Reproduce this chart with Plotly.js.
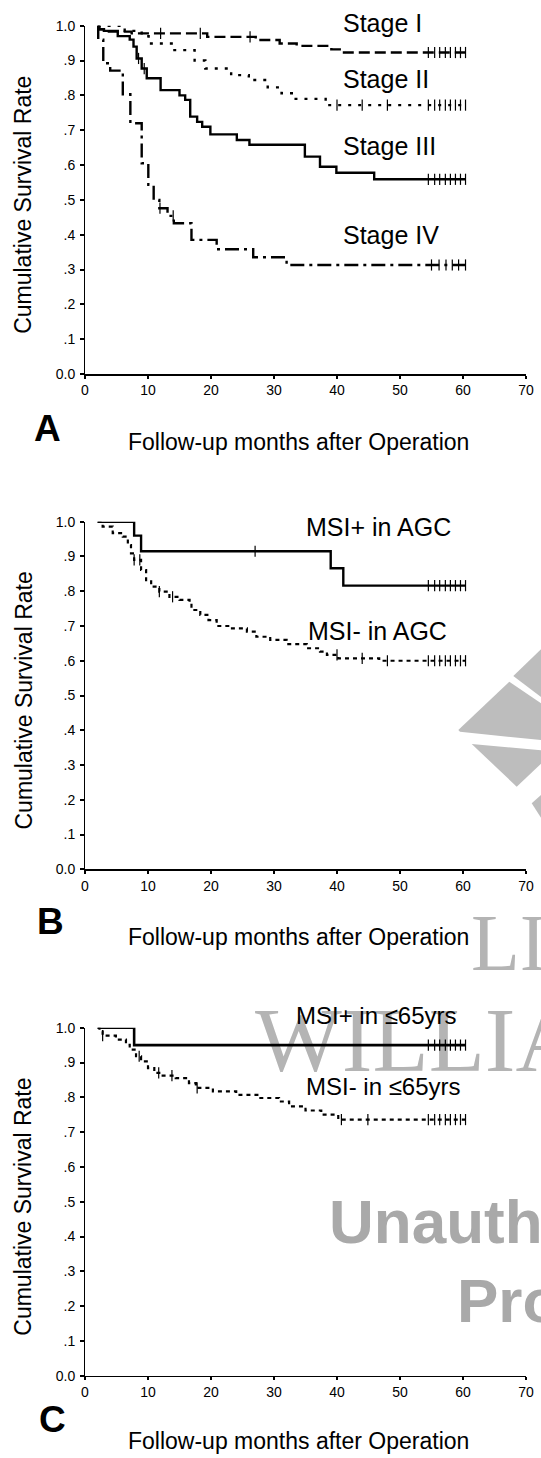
<!DOCTYPE html>
<html><head><meta charset="utf-8">
<script src="https://cdn.plot.ly/plotly-3.0.1.min.js"></script>
<style>html,body{margin:0;padding:0;background:#fff;}#chart{width:541px;height:1458px;}</style>
</head><body><div id="chart"></div>
<script>
// ---------------- data ----------------
const xTickVals = [0, 10, 20, 30, 40, 50, 60, 70];
const yTickVals = [0, 0.1, 0.2, 0.3, 0.4, 0.5, 0.6, 0.7, 0.8, 0.9, 1.0];
const yTickText = ['0.0', '.1', '.2', '.3', '.4', '.5', '.6', '.7', '.8', '.9', '1.0'];
const xTitle = 'Follow-up months after Operation';
const yTitle = 'Cumulative Survival Rate';

// Panel A: stages
const stage1Months = [2, 2.3, 3, 7.4, 19.4, 27.1, 30.9, 33.6, 39.1, 40.7, 60.4];
const stage1Surv   = [1.0, 0.99, 0.983, 0.978, 0.968, 0.959, 0.949, 0.942, 0.932, 0.923, 0.923];
const stage1Censor = [12, 18.3, 26.2, 54.5, 55.5, 56.3, 57.2, 58, 58.8, 59.6, 60.4];

const stage2Months = [2, 6.3, 9.0, 10.1, 14.0, 17.4, 19.1, 23.2, 26.0, 29.0, 31.2, 33.1, 38.2, 60.4];
const stage2Surv   = [1.0, 0.985, 0.97, 0.949, 0.93, 0.90, 0.877, 0.858, 0.844, 0.823, 0.806, 0.79, 0.772, 0.772];
const stage2Censor = [40, 44, 48, 54.5, 55.5, 56.3, 57.2, 58, 58.8, 59.6, 60.4];

const stage3Months = [2, 2.2, 3, 5.2, 7.1, 7.7, 8.2, 9.0, 9.8, 12.0, 15.0, 15.9, 16.7, 17.8, 18.6, 19.9, 24.1, 26.1, 34.9, 37.3, 39.9, 45.9, 60.4];
const stage3Surv   = [1.0, 0.99, 0.985, 0.97, 0.96, 0.94, 0.906, 0.877, 0.849, 0.815, 0.80, 0.787, 0.739, 0.724, 0.71, 0.688, 0.672, 0.658, 0.624, 0.595, 0.578, 0.559, 0.559];
const stage3Censor = [8.5, 9.4, 54.5, 55.5, 56.3, 57.2, 58, 58.8, 59.6, 60.4];

const stage4Months = [2, 2.1, 2.9, 4.0, 6.0, 7.2, 9.0, 10.05, 10.9, 11.8, 13.1, 14.1, 16.9, 20.9, 26.7, 32.0, 60.4];
const stage4Surv   = [1.0, 0.96, 0.892, 0.871, 0.803, 0.72, 0.605, 0.543, 0.50, 0.476, 0.454, 0.433, 0.385, 0.358, 0.335, 0.313, 0.313];
const stage4Censor = [11.9, 14, 55, 56.2, 57.3, 58.3, 59.3, 60.4];

// Panel B: MSI in AGC
const agcPosMonths = [2, 7.8, 8.9, 39.0, 41.0, 60.4];
const agcPosSurv   = [1.0, 0.96, 0.915, 0.866, 0.816, 0.816];
const agcPosCensor = [27, 54.5, 55.5, 56.3, 57.2, 58, 58.8, 59.6, 60.4];

const agcNegMonths = [2, 2.8, 4.4, 6.0, 6.8, 7.3, 7.8, 8.9, 9.7, 10.5, 11.8, 13.4, 15.0, 16.6, 16.9, 18.3, 19.6, 20.9, 23.0, 25.7, 27.2, 29.4, 32.0, 35.2, 37.3, 38.4, 40.2, 46.7, 60.4];
const agcNegSurv   = [1.0, 0.986, 0.967, 0.957, 0.933, 0.909, 0.89, 0.861, 0.832, 0.813, 0.799, 0.784, 0.775, 0.765, 0.746, 0.732, 0.717, 0.70, 0.693, 0.684, 0.669, 0.66, 0.648, 0.636, 0.626, 0.617, 0.607, 0.60, 0.60];
const agcNegCensor = [7.8, 8.7, 11.8, 13.9, 40, 44, 48, 54.5, 55.5, 56.3, 57.2, 58, 58.8, 59.6, 60.4];

// Panel C: MSI in <=65 yrs
const youngPosMonths = [2, 7.8, 60.4];
const youngPosSurv   = [1.0, 0.95, 0.95];
const youngPosCensor = [54.5, 55.5, 56.3, 57.2, 58, 58.8, 59.6, 60.4];

const youngNegMonths = [2, 2.3, 2.8, 4.9, 6.5, 7.1, 8.1, 8.9, 10.0, 11.0, 12.0, 14.4, 16.5, 17.6, 20.3, 24.0, 27.6, 30.8, 32.4, 35.0, 37.5, 40.2, 60.4];
const youngNegSurv   = [1.0, 0.989, 0.977, 0.966, 0.951, 0.937, 0.918, 0.903, 0.884, 0.87, 0.862, 0.855, 0.841, 0.827, 0.817, 0.807, 0.798, 0.788, 0.774, 0.762, 0.75, 0.736, 0.736];
const youngNegCensor = [2.8, 8.6, 11.7, 13.8, 17.8, 40.7, 44.9, 54.5, 55.5, 56.3, 57.2, 58, 58.8, 59.6, 60.4];

const panelLetters = ['A', 'B', 'C'];
const curveLabels = [
  ['Stage I', 'Stage II', 'Stage III', 'Stage IV'],
  ['MSI+ in AGC', 'MSI- in AGC'],
  ['MSI+ in \u226465yrs', 'MSI- in \u226465yrs']
];
// label anchor positions (months, survival level)
const labelMonth = [[40.7, 40.7, 40.7, 40.7], [34.7, 35.0], [33.1, 34.7]];
const labelLevel = [[1.008, 0.846, 0.655, 0.399], [0.984, 0.686], [1.036, 0.831]];

// ---------------- layout helpers ----------------
const W = 541, H = 1458;
const FONT = 'Liberation Sans, Arial, sans-serif';
const SERIF = 'Liberation Serif, Times New Roman, serif';
const px = x => x / W;
const py = y => 1 - y / H;
const X0 = 85, X1 = 526;
const panels = [
  {top: 25.7, bottom: 374.0, lx: 47.5, ly: 428.3, ty: 442.5},
  {top: 521.7, bottom: 869.3, lx: 50.8, ly: 921.7, ty: 936.7},
  {top: 1027.7, bottom: 1375.7, lx: 52, ly: 1419, ty: 1441}
];

function stepAt(ts, ss, t) {
  let v = ss[0];
  for (let i = 0; i < ts.length; i++) if (ts[i] <= t) v = ss[i];
  return v;
}

const curves = [
  [
    {t: stage1Months, s: stage1Surv, c: stage1Censor, dash: '11px,5px', w: 2.4},
    {t: stage2Months, s: stage2Surv, c: stage2Censor, dash: '3px,7px', w: 2.4},
    {t: stage3Months, s: stage3Surv, c: stage3Censor, dash: 'solid', w: 2.4},
    {t: stage4Months, s: stage4Surv, c: stage4Censor, dash: '14px,5px,3px,5px', w: 2.4}
  ],
  [
    {t: agcPosMonths, s: agcPosSurv, c: agcPosCensor, dash: 'solid', w: 2.4},
    {t: agcNegMonths, s: agcNegSurv, c: agcNegCensor, dash: '4px,4px', w: 2.2}
  ],
  [
    {t: youngPosMonths, s: youngPosSurv, c: youngPosCensor, dash: 'solid', w: 2.6},
    {t: youngNegMonths, s: youngNegSurv, c: youngNegCensor, dash: '4px,4px', w: 2.2}
  ]
];

const data = [];
const layout = {
  width: W, height: H,
  margin: {l: 0, r: 0, t: 0, b: 0},
  paper_bgcolor: '#ffffff', plot_bgcolor: 'rgba(0,0,0,0)',
  showlegend: false,
  font: {family: FONT, color: '#000'},
  annotations: [], shapes: []
};

panels.forEach((p, i) => {
  const sfx = i === 0 ? '' : String(i + 1);
  const xa = 'x' + sfx, ya = 'y' + sfx;
  layout['xaxis' + sfx] = {
    domain: [px(X0), px(X1)], range: [0, 70], anchor: ya,
    tickvals: xTickVals, ticktext: xTickVals.map(String),
    showline: true, linecolor: '#000', linewidth: 1.5,
    ticks: 'outside', ticklen: 3, tickwidth: 2, tickcolor: '#000',
    tickfont: {family: FONT, size: 14, color: '#000'},
    showgrid: false, zeroline: false, fixedrange: true
  };
  layout['yaxis' + sfx] = {
    domain: [py(p.bottom), py(p.top)], range: [0, 1], anchor: xa,
    tickvals: yTickVals, ticktext: yTickText,
    showline: true, linecolor: '#000', linewidth: 1,
    ticks: 'outside', ticklen: 4, tickwidth: 2, tickcolor: '#000',
    tickfont: {family: FONT, size: 14, color: '#000'},
    ticklabelstandoff: 2,
    showgrid: false, zeroline: false, fixedrange: true
  };
  curves[i].forEach((cv, j) => {
    data.push({
      type: 'scatter', mode: 'lines', x: cv.t, y: cv.s, xaxis: xa, yaxis: ya,
      line: {shape: 'hv', color: '#000', width: cv.w, dash: cv.dash},
      cliponaxis: false, hoverinfo: 'skip'
    });
    data.push({
      type: 'scatter', mode: 'markers', x: cv.c, y: cv.c.map(t => stepAt(cv.t, cv.s, t)),
      xaxis: xa, yaxis: ya,
      marker: {symbol: 'line-ns-open', size: 8, color: '#000', line: {width: 1.2, color: '#000'}},
      cliponaxis: false, hoverinfo: 'skip'
    });
    // curve label, placed in paper space from its (month, level) anchor
    const lxPx = X0 + labelMonth[i][j] * (X1 - X0) / 70;
    const lyPx = p.bottom - labelLevel[i][j] * (p.bottom - p.top);
    layout.annotations.push({
      xref: 'paper', yref: 'paper', x: px(lxPx), y: py(lyPx),
      xanchor: 'left', yanchor: 'middle', showarrow: false,
      text: curveLabels[i][j],
      font: {family: FONT, size: i === 2 ? 24 : 25, color: '#000'}
    });
  });
  // panel letter
  layout.annotations.push({
    xref: 'paper', yref: 'paper', x: px(p.lx), y: py(p.ly),
    xanchor: 'center', yanchor: 'middle', showarrow: false,
    text: '<b>' + panelLetters[i] + '</b>',
    font: {family: FONT, size: 37, color: '#000'}
  });
  // x title
  layout.annotations.push({
    xref: 'paper', yref: 'paper', x: px(298), y: py(p.ty),
    xanchor: 'center', yanchor: 'middle', showarrow: false,
    text: xTitle, font: {family: FONT, size: 23, color: '#000'}
  });
  // y title
  layout.annotations.push({
    xref: 'paper', yref: 'paper', x: px(23), y: py((p.top + p.bottom) / 2 + 5),
    xanchor: 'center', yanchor: 'middle', showarrow: false, textangle: -90,
    text: yTitle, font: {family: FONT, size: 23, color: '#000'}
  });
});

// ---------------- publisher watermark (drawn beneath the curves) ----------------
function poly(pts) {
  return 'M' + pts.map(q => px(q[0]).toFixed(5) + ',' + py(q[1]).toFixed(5)).join('L') + 'Z';
}
const logoGray = '#bdbdbd';
[
  [[513.3, 676], [545, 645.5], [545, 700]],
  [[458.3, 730], [509.3, 681.7], [545, 706], [545, 740.5], [460, 731.7]],
  [[471.7, 744], [545, 750.5], [545, 760], [516.7, 786.7]],
  [[531.7, 803.3], [545, 791.5], [545, 824]]
].forEach(pts => layout.shapes.push({
  type: 'path', xref: 'paper', yref: 'paper', path: poly(pts),
  fillcolor: logoGray, line: {width: 0}, layer: 'below'
}));

function wmText(text, xLeft, yMid, size, family, bold, color) {
  layout.shapes.push({
    type: 'rect', xref: 'paper', yref: 'paper',
    x0: px(xLeft), x1: px(xLeft + 600), y0: py(yMid + 60), y1: py(yMid - 60),
    line: {width: 0}, fillcolor: 'rgba(0,0,0,0)', layer: 'below',
    label: {text: bold ? '<b>' + text + '</b>' : text, textposition: 'middle left', padding: 0,
            font: {family: family, size: size, color: color}}
  });
}
wmText('LIPP', 468, 934, 80, SERIF, false, '#b4b4b4');
wmText('WILLIAMS', 252, 1030, 92, SERIF, false, '#b4b4b4');
wmText('Unauthorized', 326, 1215, 62, FONT, true, '#a9a9a9');
wmText('Prohibited', 454, 1294, 62, FONT, true, '#a9a9a9');

Plotly.newPlot('chart', data, layout, {staticPlot: true, displayModeBar: false});
</script>
</body></html>
